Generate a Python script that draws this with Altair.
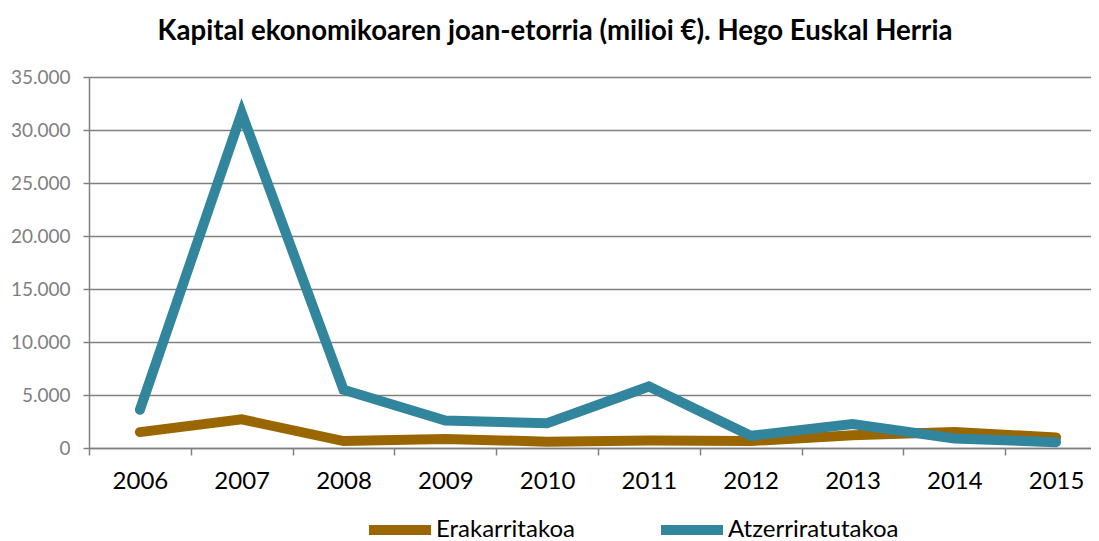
import altair as alt
import pandas as pd

years = ["2006", "2007", "2008", "2009", "2010", "2011", "2012", "2013", "2014", "2015"]
erakarritakoa = [1500, 2700, 650, 850, 600, 700, 650, 1200, 1500, 1000]
atzerriratutakoa = [3600, 31600, 5500, 2600, 2330, 5800, 1150, 2250, 900, 550]
series = ["Erakarritakoa", "Atzerriratutakoa"]
colors = ["#996600", "#31859C"]
y_ticks = [0, 5000, 10000, 15000, 20000, 25000, 30000, 35000]

rows = []
for name, vals in zip(series, [erakarritakoa, atzerriratutakoa]):
    for yr, v in zip(years, vals):
        rows.append({"year": yr, "value": v, "series": name})
df = pd.DataFrame(rows)

FONT = "Lato"
GRAY = "#808080"

chart = alt.Chart(df).mark_line(strokeWidth=10, strokeCap="round").encode(
    x=alt.X("year:N", sort=years, title=None,
            scale=alt.Scale(paddingInner=0, paddingOuter=0, range=[0, 1018]),
            axis=alt.Axis(labelAngle=0, tickBand="extent", labelFont=FONT, labelFontSize=24,
                          labelColor="#000000", labelPadding=14, tickSize=7,
                          tickColor=GRAY, tickWidth=1.5, domainColor=GRAY, domainWidth=1.5,
                          grid=False)),
    y=alt.Y("value:Q", title=None,
            scale=alt.Scale(domain=[0, 35000], nice=False),
            axis=alt.Axis(values=y_ticks, labelExpr="replace(format(datum.value, ','), ',', '.')",
                          labelFont=FONT, labelFontSize=19, labelColor="#7f7f7f",
                          labelPadding=13, tickSize=6, tickColor=GRAY, tickWidth=1.5,
                          domainColor=GRAY, domainWidth=1.5,
                          grid=True, gridColor=GRAY, gridWidth=1.5)),
    color=alt.Color("series:N", sort=series,
                    scale=alt.Scale(domain=series, range=colors),
                    legend=alt.Legend(title=None, orient="none", direction="horizontal",
                                      legendX=275, legendY=417, padding=0,
                                      symbolType="stroke", symbolSize=3844, symbolStrokeWidth=10,
                                      labelFont=FONT, labelFontSize=24, labelColor="#000000",
                                      labelOffset=0, columnPadding=66, labelLimit=400)),
    order=alt.Order("year:N"),
).properties(
    width=1002,
    height=371,
    padding={"left": 81, "top": 69, "right": 0, "bottom": 93},
    autosize=alt.AutoSizeParams(type="none"),
    title=alt.Title("Kapital ekonomikoaren joan-etorria (milioi €). Hego Euskal Herria",
                    font=FONT, fontSize=27.6, fontWeight="bold", color="#000000",
                    anchor="middle", frame="group", dx=-35, offset=22),
).configure_view(stroke=None)

chart.save("out.html", embed_options={"renderer": "svg", "actions": False})
